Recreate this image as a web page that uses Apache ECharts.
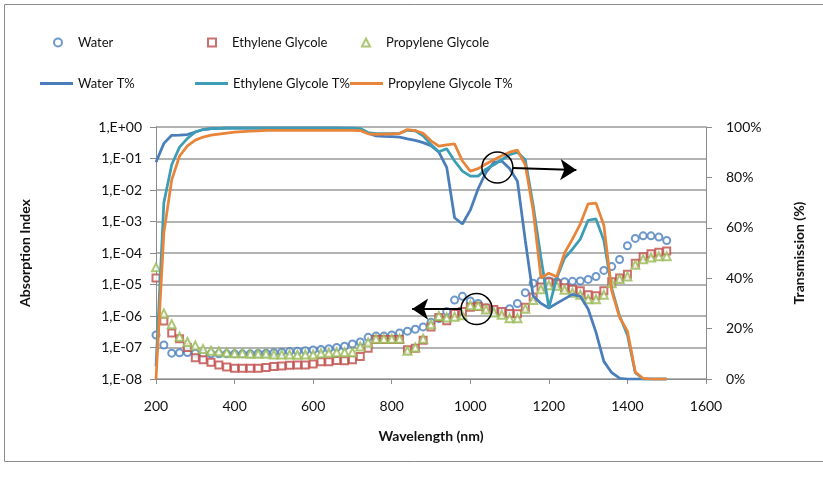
<!DOCTYPE html>
<html>
<head>
<meta charset="utf-8">
<script src="https://cdn.jsdelivr.net/npm/echarts@6/dist/echarts.min.js"></script>
<style>
html,body{margin:0;padding:0;background:#fff;}
#chart{width:823px;height:480px;}
</style>
</head>
<body>
<div id="chart"></div>
<script>
const wavelengths = [200,220,240,260,280,300,320,340,360,380,400,420,440,460,480,500,520,540,560,580,600,620,640,660,680,700,720,740,760,780,800,820,840,860,880,900,920,940,960,980,1000,1020,1040,1060,1080,1100,1120,1140,1160,1180,1200,1220,1240,1260,1280,1300,1320,1340,1360,1380,1400,1420,1440,1460,1480,1500];

const waterAbs = [2.5e-7,1.2e-7,6.6e-8,6.8e-8,6.9e-8,6.6e-8,6.3e-8,6.3e-8,6.3e-8,6.3e-8,6.3e-8,6.3e-8,6.3e-8,6.5e-8,6.6e-8,6.8e-8,7.1e-8,7.4e-8,7.6e-8,7.9e-8,8.3e-8,8.7e-8,9.1e-8,1.0e-7,1.1e-7,1.3e-7,1.5e-7,2.1e-7,2.3e-7,2.3e-7,2.5e-7,2.9e-7,3.3e-7,3.8e-7,4.5e-7,6.3e-7,8.3e-7,1.4e-6,3.2e-6,4.2e-6,3.0e-6,2.5e-6,1.8e-6,1.4e-6,1.3e-6,1.7e-6,2.5e-6,5.5e-6,1.1e-5,1.3e-5,1.3e-5,1.23e-5,1.23e-5,1.26e-5,1.3e-5,1.45e-5,1.8e-5,2.8e-5,3.7e-5,6.2e-5,1.7e-4,2.9e-4,3.5e-4,3.5e-4,3.2e-4,2.5e-4];

const ethyleneAbs = [1.6e-5,6.9e-7,2.9e-7,1.9e-7,1.0e-7,4.7e-8,4.1e-8,3.4e-8,2.8e-8,2.4e-8,2.2e-8,2.2e-8,2.2e-8,2.2e-8,2.3e-8,2.5e-8,2.6e-8,2.75e-8,2.8e-8,2.8e-8,3.0e-8,3.5e-8,3.5e-8,3.9e-8,3.8e-8,4.1e-8,5.2e-8,9.5e-8,1.8e-7,1.8e-7,1.8e-7,1.8e-7,8.5e-8,9.5e-8,1.7e-7,4.5e-7,8.9e-7,7.1e-7,1.2e-6,1.4e-6,1.9e-6,2.0e-6,1.8e-6,1.6e-6,1.4e-6,1.2e-6,1.17e-6,1.9e-6,4.0e-6,8.3e-6,1.2e-5,1.05e-5,7.9e-6,7.1e-6,6.3e-6,4.7e-6,4.4e-6,6.3e-6,1.23e-5,1.6e-5,2.1e-5,4.7e-5,7.6e-5,9.5e-5,1.05e-4,1.15e-4];

const propyleneAbs = [3.5e-5,1.2e-6,5.5e-7,2.2e-7,1.5e-7,1.15e-7,8.9e-8,7.9e-8,7.6e-8,6.9e-8,6.6e-8,6.6e-8,6.3e-8,6.3e-8,6.3e-8,6.0e-8,6.0e-8,6.0e-8,5.9e-8,6.0e-8,6.0e-8,6.6e-8,6.8e-8,7.1e-8,7.1e-8,7.1e-8,1.07e-7,1.45e-7,1.9e-7,1.9e-7,1.9e-7,1.9e-7,7.9e-8,1.0e-7,1.9e-7,5.5e-7,1.0e-6,8.9e-7,9.5e-7,1.05e-6,2.2e-6,2.1e-6,1.6e-6,1.3e-6,1.1e-6,8.5e-7,8.5e-7,1.7e-6,3.2e-6,7.1e-6,9.5e-6,9.1e-6,6.8e-6,5.5e-6,4.7e-6,3.4e-6,3.4e-6,4.7e-6,1.1e-5,1.5e-5,1.8e-5,4.2e-5,6.3e-5,7.2e-5,7.9e-5,7.9e-5];

const waterT = [86,93.5,96.7,96.8,97,98,99,99.4,99.5,99.6,99.6,99.6,99.6,99.6,99.6,99.6,99.6,99.6,99.6,99.6,99.6,99.6,99.6,99.6,99.5,99.3,98.7,97.5,96.5,96.3,96.2,96,95.3,94.7,93.8,92.6,90,84,64,61.5,67,75.5,82,86,86.5,83.5,78.5,55,33,30,28.2,30,31.8,33.6,32.8,27.8,18.5,7,2.5,0.3,0,0,0,0,0,0];

const ethyleneT = [5,70,85,92,95.5,98,99,99.4,99.5,99.6,99.6,99.6,99.6,99.6,99.6,99.6,99.6,99.6,99.6,99.6,99.6,99.6,99.6,99.6,99.6,99.6,99.4,97.8,97.4,97.4,97.4,97.5,98.7,98.5,96.5,93,90.2,91.4,86.5,82.5,80.5,80.5,83.3,85,87,89,90,87,69,48,28.3,40,48,51.5,55.5,63,63.5,55,36,25,17.5,2.5,0,0,0,0];

const propyleneT = [0,58,79,88.5,92.5,94.8,96,96.8,97.2,97.6,98,98.2,98.4,98.5,98.7,98.7,98.7,98.7,98.7,98.7,98.7,98.7,98.7,98.7,98.7,98.7,98.6,97.3,97.1,97.2,97.3,97.4,99,98.6,97.5,94.5,92.4,92.9,93.3,86.5,82.5,83.5,85.3,87,88.6,90,90.8,85,67,40,42,40.6,50,55.5,61.5,69.5,69.8,61,35,24.5,19,2.8,0.2,0,0,0];

const xTicks = [200,400,600,800,1000,1200,1400,1600];
const seriesNames = ['Water','Ethylene Glycole','Propylene Glycole','Water T%','Ethylene Glycole T%','Propylene Glycole T%'];

const FONT = 'Lato, "Liberation Sans", sans-serif';
const cBlue = '#4A7EBB', cRed = '#BE4B48', cGreen = '#98B954', cTeal = '#3C9DB5', cOrange = '#E8853A';

function pairs(ys){ return wavelengths.map((w,i)=>[w, ys[i]]); }
function sciLabel(v){
  const e = Math.round(Math.log10(v));
  const s = e >= 0 ? '+' : '-';
  const a = Math.abs(e);
  return '1,E' + s + (a < 10 ? '0' + a : a);
}

const chart = echarts.init(document.getElementById('chart'), null, {renderer:'canvas'});

function legendItem(name, left, top, icon, w, h, padLeft){
  return {
    data:[name], left:left, top:top, icon:icon, itemWidth:w, itemHeight:h,
    padding:0, selectedMode:false,
    textStyle:{fontFamily:FONT, fontSize:13, color:'#111', padding:[0,0,0,padLeft]}
  };
}

const option = {
  animation:false,
  backgroundColor:'#fff',
  graphic:[{
    type:'rect', shape:{x:4.5,y:4.5,width:1000,height:457}, silent:true,
    style:{fill:'none', stroke:'#8c8c8c', lineWidth:1}
  }],
  legend:[
    legendItem(seriesNames[0], 53, 36, 'emptyCircle', 8, 8, 11),
    legendItem(seriesNames[1], 207, 36, 'emptyRect', 8, 8, 11),
    legendItem(seriesNames[2], 361, 36, 'emptyTriangle', 8, 8, 11),
    legendItem(seriesNames[3], 40, 77, 'rect', 33, 3, 0),
    legendItem(seriesNames[4], 195, 77, 'rect', 33, 3, 0),
    legendItem(seriesNames[5], 350, 77, 'rect', 33, 3, 0)
  ],
  grid:{left:156, right:117, top:127, bottom:101},
  xAxis:{
    type:'value', min:200, max:1600, interval:200,
    name:'Wavelength (nm)', nameLocation:'middle', nameGap:50,
    nameTextStyle:{fontFamily:FONT, fontSize:14, fontWeight:'bold', color:'#111'},
    axisLine:{show:true, onZero:false, lineStyle:{color:'#8c8c8c', width:1}},
    axisTick:{show:true, length:5, lineStyle:{color:'#8c8c8c'}},
    axisLabel:{fontFamily:FONT, fontSize:14, color:'#111', margin:20, formatter:function(v){return String(v);}},
    splitLine:{show:false}
  },
  yAxis:[{
    type:'log', logBase:10, min:1e-8, max:1, splitNumber:8,
    name:'Absorption Index', nameLocation:'middle', nameGap:124, nameRotate:90,
    nameTextStyle:{fontFamily:FONT, fontSize:14, fontWeight:'bold', color:'#111'},
    axisLine:{show:true, lineStyle:{color:'#8c8c8c', width:1}},
    axisTick:{show:true, length:6, lineStyle:{color:'#8c8c8c'}},
    axisLabel:{fontFamily:FONT, fontSize:14, color:'#111', margin:14, formatter:sciLabel},
    splitLine:{show:true, lineStyle:{color:'#9a9a9a', width:1.5}}
  },{
    type:'value', min:0, max:100, interval:20, position:'right',
    name:'Transmission (%)', nameLocation:'middle', nameGap:86, nameRotate:90,
    nameTextStyle:{fontFamily:FONT, fontSize:14, fontWeight:'bold', color:'#111'},
    axisLine:{show:true, lineStyle:{color:'#8c8c8c', width:1}},
    axisTick:{show:true, length:6, lineStyle:{color:'#8c8c8c'}},
    axisLabel:{fontFamily:FONT, fontSize:14, color:'#111', margin:20, formatter:'{value}%'},
    splitLine:{show:false}
  }],
  series:[
    {name:seriesNames[0], type:'scatter', yAxisIndex:0, data:pairs(waterAbs),
     symbol:'emptyCircle', symbolSize:7, itemStyle:{color:cBlue, borderColor:cBlue, borderWidth:1.5}},
    {name:seriesNames[1], type:'scatter', yAxisIndex:0, data:pairs(ethyleneAbs),
     symbol:'emptyRect', symbolSize:7, itemStyle:{color:cRed, borderColor:cRed, borderWidth:1.5}},
    {name:seriesNames[2], type:'scatter', yAxisIndex:0, data:pairs(propyleneAbs),
     symbol:'emptyTriangle', symbolSize:8, itemStyle:{color:cGreen, borderColor:cGreen, borderWidth:1.5},
     markPoint:{silent:true, symbol:'circle', symbolSize:31, label:{show:false},
       itemStyle:{color:'rgba(0,0,0,0)', borderColor:'#000', borderWidth:1.5},
       data:[{coord:[1016, 1.66e-6]}]},
     markLine:{silent:true, symbol:['none','arrow'], symbolSize:16, label:{show:false},
       lineStyle:{color:'#000', width:2, type:'solid'},
       data:[[{coord:[978, 1.66e-6]},{coord:[852, 1.66e-6]}]]}
    },
    {name:seriesNames[3], type:'line', yAxisIndex:1, data:pairs(waterT), showSymbol:false, symbol:'none',
     lineStyle:{color:cBlue, width:2.75}, itemStyle:{color:cBlue}},
    {name:seriesNames[4], type:'line', yAxisIndex:1, data:pairs(ethyleneT), showSymbol:false, symbol:'none',
     lineStyle:{color:cTeal, width:2.75}, itemStyle:{color:cTeal}},
    {name:seriesNames[5], type:'line', yAxisIndex:1, data:pairs(propyleneT), showSymbol:false, symbol:'none',
     lineStyle:{color:cOrange, width:2.75}, itemStyle:{color:cOrange},
     markPoint:{silent:true, symbol:'circle', symbolSize:31, label:{show:false},
       itemStyle:{color:'rgba(0,0,0,0)', borderColor:'#000', borderWidth:1.5},
       data:[{coord:[1069, 83.9]}]},
     markLine:{silent:true, symbol:['none','arrow'], symbolSize:16, label:{show:false},
       lineStyle:{color:'#000', width:2, type:'solid'},
       data:[[{coord:[1108, 83.7]},{coord:[1270, 82.9]}]]}
    }
  ]
};
chart.setOption(option);
</script>
</body>
</html>
